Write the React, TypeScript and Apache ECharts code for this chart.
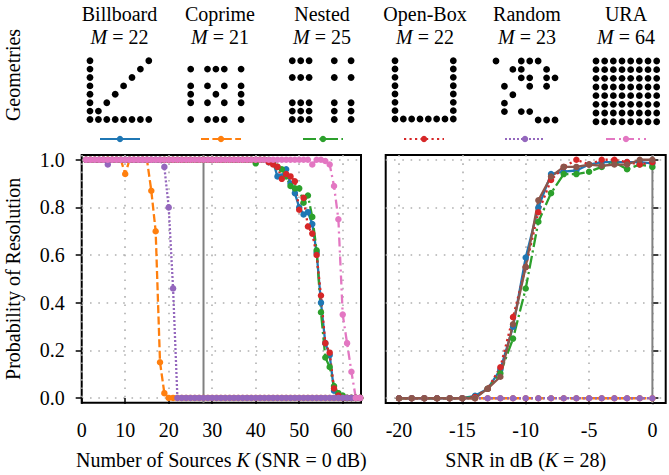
import React, { useEffect, useRef } from 'react';
import * as echarts from 'echarts';

const FONT = "'Liberation Serif', 'Times New Roman', Times, serif";
const FS = 20;

// ---------- data ----------
const GEOMETRY_NAMES = ['Billboard', 'Coprime', 'Nested', 'Open-Box', 'Random', 'URA'];
const GEOMETRY_SIZES = [22, 21, 25, 22, 23, 64];
const SERIES_COLORS = ['#1f77b4', '#ff7f0e', '#2ca02c', '#d62728', '#9467bd', '#e377c2'];
const EXTRA_NAME = 'Reference';
const EXTRA_COLOR = '#8c564b';

const BILLBOARD_MASK = [
  '#......#',
  '#.....#.',
  '#....#..',
  '#...#...',
  '#..#....',
  '#.#.....',
  '##......',
  '########',
];
const COPRIME_MASK = [
  '.......',
  '#.###.#',
  '.......',
  '#.#.#.#',
  '#..#..#',
  '#.#.#.#',
  '.......',
  '#.###.#',
];
const NESTED_MASK = [
  '###..#.#',
  '........',
  '###..#.#',
  '........',
  '........',
  '###..#.#',
  '###..#.#',
  '###..#.#',
];
const OPENBOX_MASK = [
  '#......#',
  '#......#',
  '#......#',
  '#......#',
  '#......#',
  '#......#',
  '#......#',
  '########',
];
const RANDOM_MASK = [
  '#..###..',
  '..##..#.',
  '...##.##',
  '.#..#.#.',
  '..#.....',
  '.#......',
  '.#.##...',
  '.....###',
];
const URA_MASK = [
  '########',
  '########',
  '########',
  '########',
  '########',
  '########',
  '########',
  '########',
];
const GEOMETRY_MASKS = [BILLBOARD_MASK, COPRIME_MASK, NESTED_MASK, OPENBOX_MASK, RANDOM_MASK, URA_MASK];

const K_VALUES = [
  1, 2, 3, 4, 5, 6, 7, 8, 9, 10, 11, 12, 13, 14, 15, 16, 17, 18, 19, 20,
  21, 22, 23, 24, 25, 26, 27, 28, 29, 30, 31, 32, 33, 34, 35, 36, 37, 38, 39, 40,
  41, 42, 43, 44, 45, 46, 47, 48, 49, 50, 51, 52, 53, 54, 55, 56, 57, 58, 59, 60,
  61, 62, 63, 64,
];
const PK_BILLBOARD = [
  1, 1, 1, 1, 1, 1, 1, 1, 1, 1, 1, 1, 1, 1, 1, 1, 1, 1, 1, 1,
  1, 1, 1, 1, 1, 1, 1, 1, 1, 1, 1, 1, 1, 1, 1, 1, 1, 1, 1, 1,
  1, 1, 0.99, 0.99, 0.93, 0.93, 0.96, 0.9, 0.86, 0.8, 0.77, 0.78, 0.73, 0.61, 0.4, 0.23, 0.18, 0.03, 0.01, 0,
  0, 0, 0, 0,
];
const PK_COPRIME = [
  1, 1, 1, 1, 1, 1, 1, 1, 1, 0.94, 1, 1, 1, 1, 1, 0.87, 0.7, 0.15, 0.02, 0,
  0, 0, 0, 0, 0, 0, 0, 0, 0, 0, 0, 0, 0, 0, 0, 0, 0, 0, 0, 0,
  0, 0, 0, 0, 0, 0, 0, 0, 0, 0, 0, 0, 0, 0, 0, 0, 0, 0, 0, 0,
  0, 0, 0, 0,
];
const PK_NESTED = [
  1, 1, 1, 1, 1, 1, 1, 1, 1, 1, 1, 1, 1, 1, 1, 1, 1, 1, 1, 1,
  1, 1, 1, 1, 1, 1, 1, 1, 1, 1, 1, 1, 1, 1, 1, 1, 1, 1, 1, 0.985,
  1, 1, 1, 0.99, 0.97, 0.96, 0.93, 0.89, 0.88, 0.88, 0.82, 0.85, 0.76, 0.62, 0.36, 0.17, 0.13, 0.05, 0.02, 0.01,
  0, 0, 0, 0,
];
const PK_OPENBOX = [
  1, 1, 1, 1, 1, 1, 1, 1, 1, 1, 1, 1, 1, 1, 1, 1, 1, 1, 1, 1,
  1, 1, 1, 1, 1, 1, 1, 1, 1, 1, 1, 1, 1, 1, 1, 1, 1, 1, 1, 1,
  1, 1, 0.99, 0.98, 0.97, 0.92, 0.94, 0.93, 0.91, 0.79, 0.84, 0.72, 0.69, 0.6, 0.43, 0.23, 0.19, 0.04, 0.01, 0,
  0, 0, 0, 0,
];
const PK_RANDOM = [
  1, 1, 1, 1, 1, 0.98, 1, 1, 1, 1, 1, 1, 1, 1, 1, 1, 1, 1, 0.97, 0.8,
  0.46, 0, 0, 0, 0, 0, 0, 0, 0, 0, 0, 0, 0, 0, 0, 0, 0, 0, 0, 0,
  0, 0, 0, 0, 0, 0, 0, 0, 0, 0, 0, 0, 0, 0, 0, 0, 0, 0, 0, 0,
  0, 0, 0, 0,
];
const PK_URA = [
  1, 1, 1, 1, 1, 1, 1, 1, 1, 1, 1, 1, 1, 1, 1, 1, 1, 1, 1, 1,
  1, 1, 1, 1, 1, 1, 1, 1, 1, 1, 1, 1, 1, 1, 1, 1, 1, 1, 1, 1,
  1, 1, 1, 1, 1, 1, 1, 1, 1, 1, 1, 1, 0.98, 1, 1, 0.995, 0.98, 0.89, 0.75, 0.35,
  0.23, 0.11, 0, 0,
];
const PK_ALL = [PK_BILLBOARD, PK_COPRIME, PK_NESTED, PK_OPENBOX, PK_RANDOM, PK_URA];

const SNR_VALUES = [-20, -19, -18, -17, -16, -15, -14, -13, -12, -11, -10, -9, -8, -7, -6, -5, -4, -3, -2, -1, 0];
const PS_BILLBOARD = [0, 0, 0, 0, 0, 0, 0.01, 0.04, 0.12, 0.3, 0.59, 0.8, 0.94, 0.95, 0.955, 0.98, 0.99, 0.99, 0.99, 0.99, 0.985];
const PS_COPRIME = [0, 0, 0, 0, 0, 0, 0, 0, 0, 0, 0, 0, 0, 0, 0, 0, 0, 0, 0, 0, 0];
const PS_NESTED = [0, 0, 0, 0, 0, 0, 0.005, 0.04, 0.105, 0.25, 0.46, 0.74, 0.86, 0.94, 0.94, 0.95, 0.97, 0.99, 0.96, 0.98, 0.97];
const PS_OPENBOX = [0, 0, 0, 0, 0, 0, 0.005, 0.04, 0.13, 0.34, 0.55, 0.78, 0.915, 0.97, 1, 0.98, 1, 1, 0.99, 0.98, 0.99];
const PS_RANDOM = [0, 0, 0, 0, 0, 0, 0, 0, 0, 0, 0, 0, 0, 0, 0, 0, 0, 0, 0, 0, 0];
const PS_EXTRA = [0, 0, 0, 0, 0, 0, 0, 0.04, 0.09, 0.31, 0.55, 0.83, 0.93, 0.97, 0.97, 0.98, 0.975, 0.98, 0.98, 1, 1];
const PS_ALL = [PS_BILLBOARD, PS_COPRIME, PS_NESTED, PS_OPENBOX, PS_RANDOM];

const K_TICKS = [0, 10, 20, 30, 40, 50, 60];
const SNR_TICKS = [-20, -15, -10, -5, 0];
const PR_TICKS = [0, 0.2, 0.4, 0.6, 0.8, 1.0];
const K_FIXED = 28;
const SNR_FIXED = 0;

// ---------- layout / styles ----------
const TITLE_X = [119.5, 220, 322, 425, 527, 626];
const LEGEND_LEFT = [99, 200, 302, 403, 504, 605];
const GEO_LAYOUT = [
  { left: 90, top: 60.7, step: 8.4 },
  { left: 190.7, top: 60.7, step: 8.4 },
  { left: 292.3, top: 60.7, step: 8.4 },
  { left: 395, top: 60.7, step: 8.33 },
  { left: 496, top: 61, step: 8.43 },
  { left: 596, top: 61, step: 8.67 },
];
const DASHES: any[] = ['solid', [8, 3.4], [13, 3.4, 2.2, 3.4], [2.2, 3.3], [2, 2], [9, 4, 2, 4]];
const LINE_W = 2.3;
const SYM = 6.5;

function maskToPoints(mask: string[]): number[][] {
  const pts: number[][] = [];
  mask.forEach((row, r) => {
    for (let c = 0; c < row.length; c++) if (row[c] === '#') pts.push([c, r]);
  });
  return pts;
}

function buildOption(): any {
  const textBase = { fontFamily: FONT, fontSize: FS, color: '#000' };
  const gridLine = { show: true, lineStyle: { color: '#b0b0b0', width: 1.6, type: [1.6, 6.7] } };
  const tick = (vals: number[]) => ({
    show: true, customValues: vals, length: 6, inside: false,
    lineStyle: { color: '#000', width: 1.5 },
  });
  const rich = { i: { fontFamily: FONT, fontSize: FS, fontStyle: 'italic', color: '#000' } };

  const grids: any[] = [
    { left: 81.7, top: 155, width: 279.3, height: 247.7, show: true, borderColor: '#000', borderWidth: 2, containLabel: false },
    { left: 385.7, top: 155, width: 280, height: 248, show: true, borderColor: '#000', borderWidth: 2, containLabel: false },
    ...GEO_LAYOUT.map((g) => ({ left: g.left, top: g.top, width: g.step * 7, height: g.step * 7, show: false })),
  ];

  const xAxes: any[] = [
    {
      type: 'value', gridIndex: 0, min: 0, max: 64.2,
      axisLine: { show: false }, axisTick: tick(K_TICKS),
      axisLabel: { customValues: K_TICKS, margin: 17, ...textBase },
      splitLine: gridLine,
      name: 'Number of Sources {i|K} (SNR = 0 dB)', nameLocation: 'middle', nameGap: 47,
      nameTextStyle: { ...textBase, rich },
    },
    {
      type: 'value', gridIndex: 1, min: -21.05, max: 1.05,
      axisLine: { show: false }, axisTick: tick(SNR_TICKS),
      axisLabel: { customValues: SNR_TICKS, margin: 17, ...textBase },
      splitLine: gridLine,
      name: 'SNR in dB ({i|K} = 28)', nameLocation: 'middle', nameGap: 47,
      nameTextStyle: { ...textBase, rich },
    },
    ...GEO_LAYOUT.map((_, i) => ({ type: 'value', gridIndex: 2 + i, min: 0, max: 7, show: false })),
  ];
  const yAxes: any[] = [
    {
      type: 'value', gridIndex: 0, min: -0.02, max: 1.02,
      axisLine: { show: false }, axisTick: tick(PR_TICKS),
      axisLabel: { customValues: PR_TICKS, margin: 17, formatter: (v: number) => v.toFixed(1), ...textBase },
      splitLine: gridLine,
      name: 'Probability of Resolution', nameLocation: 'middle', nameGap: 59,
      nameTextStyle: { ...textBase },
    },
    {
      type: 'value', gridIndex: 1, min: -0.02, max: 1.02, position: 'right',
      axisLine: { show: false }, axisTick: tick(PR_TICKS),
      axisLabel: { show: false, customValues: PR_TICKS },
      splitLine: gridLine,
    },
    ...GEO_LAYOUT.map((_, i) => ({ type: 'value', gridIndex: 2 + i, min: 0, max: 7, inverse: true, show: false })),
  ];

  const lineSeries = (name: string, color: string, dash: any, xi: number, xs: number[], ys: number[]) => ({
    type: 'line', name, xAxisIndex: xi, yAxisIndex: xi,
    data: xs.map((x, j) => [x, ys[j]]),
    symbol: 'circle', symbolSize: SYM, showSymbol: true,
    lineStyle: { color, width: LINE_W, type: dash },
    itemStyle: { color, opacity: 1 },
    emphasis: { disabled: true },
  });

  const refLine = (xi: number, x: number) => ({
    type: 'line', name: 'fixed', xAxisIndex: xi, yAxisIndex: xi,
    data: [[x, -0.02], [x, 1.02]], showSymbol: false, symbol: 'none',
    lineStyle: { color: '#808080', width: 2, type: 'solid' }, silent: true,
  });

  const series: any[] = [
    refLine(0, K_FIXED),
    refLine(1, SNR_FIXED),
    ...GEOMETRY_NAMES.map((n, i) => lineSeries(n, SERIES_COLORS[i], DASHES[i], 0, K_VALUES, PK_ALL[i])),
    ...PS_ALL.map((ys, i) => lineSeries(GEOMETRY_NAMES[i], SERIES_COLORS[i], DASHES[i], 1, SNR_VALUES, ys)),
    lineSeries(EXTRA_NAME, EXTRA_COLOR, 'solid', 1, SNR_VALUES, PS_EXTRA),
    ...GEOMETRY_MASKS.map((m, i) => ({
      type: 'scatter', name: GEOMETRY_NAMES[i] + ' geometry', xAxisIndex: 2 + i, yAxisIndex: 2 + i,
      data: maskToPoints(m), symbol: 'circle', symbolSize: 6.8, itemStyle: { color: '#000', opacity: 1 },
      clip: false, silent: true,
    })),
  ];

  const legends = GEOMETRY_NAMES.map((n, i) => ({
    data: [n], left: LEGEND_LEFT[i], top: 135, padding: 0, itemGap: 0,
    itemWidth: 40, itemHeight: 8, formatter: () => '', selectedMode: false,
    textStyle: { fontSize: 4 },
  }));

  const graphic: any[] = [
    ...GEOMETRY_NAMES.map((n, i) => ({
      type: 'text', x: TITLE_X[i], y: 14, silent: true,
      style: { text: n, fill: '#000', fontFamily: FONT, fontSize: FS, align: 'center', verticalAlign: 'middle' },
    })),
    ...GEOMETRY_SIZES.map((m, i) => ({
      type: 'text', x: TITLE_X[i], y: 36.5, silent: true,
      style: {
        text: `{i|M} = ${m}`, fill: '#000', fontFamily: FONT, fontSize: FS, align: 'center', verticalAlign: 'middle',
        rich: { i: { fontFamily: FONT, fontSize: FS, fontStyle: 'italic', fill: '#000' } },
      },
    })),
    {
      type: 'text', x: 13, y: 75, rotation: Math.PI / 2, silent: true,
      style: { text: 'Geometries', fill: '#000', fontFamily: FONT, fontSize: FS, align: 'center', verticalAlign: 'middle' },
    },
  ];

  return {
    animation: false,
    backgroundColor: '#fff',
    textStyle: { fontFamily: FONT },
    grid: grids,
    xAxis: xAxes,
    yAxis: yAxes,
    legend: legends,
    series,
    graphic,
  };
}

export default function App() {
  const ref = useRef<HTMLDivElement>(null);
  useEffect(() => {
    if (!ref.current) return;
    const chart = echarts.init(ref.current, undefined, { renderer: 'svg' });
    chart.setOption(buildOption());
    return () => chart.dispose();
  }, []);
  return <div ref={ref} style={{ position: 'fixed', left: 0, top: 0, width: 669, height: 475, background: '#fff' }} />;
}
